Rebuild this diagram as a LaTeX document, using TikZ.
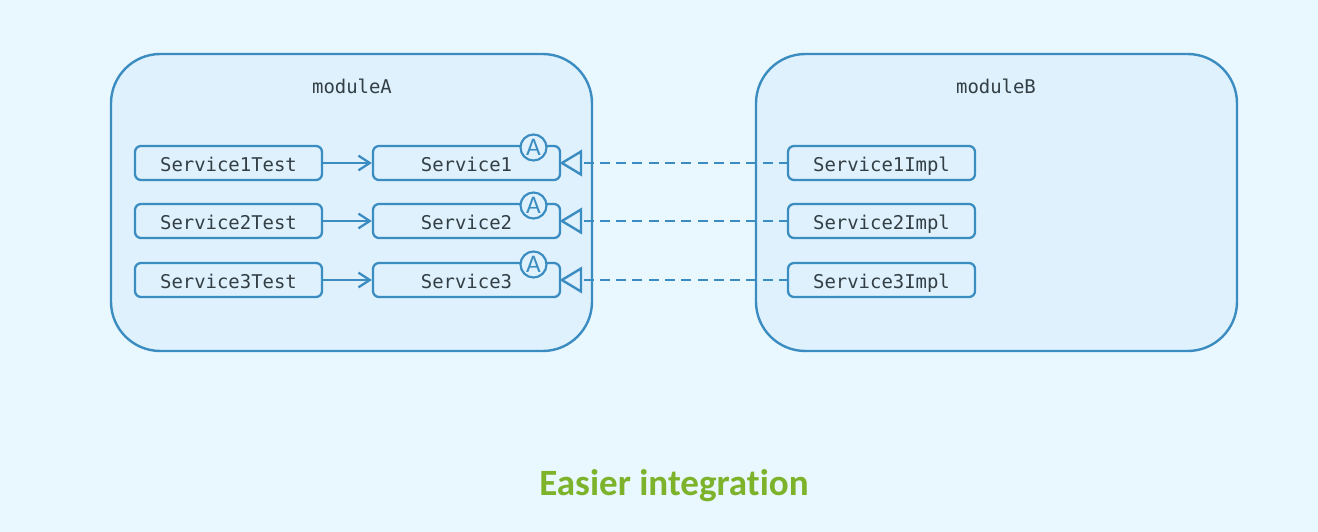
\documentclass[tikz,border=0pt]{standalone}
\usepackage{fontspec}
\setmainfont{Carlito}[Ligatures=NoCommon]
\setmonofont{DejaVu Sans Mono}
\usetikzlibrary{arrows.meta}
\definecolor{bgc}{HTML}{E9F7FF}
\definecolor{modfill}{HTML}{DEF1FD}
\definecolor{linec}{HTML}{3B8CC0}
\definecolor{txtc}{HTML}{333F44}
\definecolor{greenc}{HTML}{7CB32B}
\tikzset{
  x=0.75pt,y=-0.75pt,
  modulebox/.style={draw=linec,line width=1.8pt,fill=modfill,rounded corners=37pt,minimum width=360.75pt,minimum height=222.75pt,inner sep=0pt},
  modtitle/.style={font=\ttfamily\fontsize{14.2pt}{16pt}\selectfont,text=txtc,inner sep=0pt},
  itembox/.style={draw=linec,line width=1.7pt,fill=modfill,rounded corners=4.5pt,minimum width=140.25pt,minimum height=25.5pt,inner sep=0pt,text height=12pt,text depth=0pt,font=\ttfamily\fontsize{14.2pt}{16pt}\selectfont,text=txtc},
  badge/.style={circle,draw=linec,line width=1.6pt,fill=modfill,minimum size=19.5pt,inner sep=0pt,font=\fontsize{19pt}{20pt}\selectfont,text=linec},
  uses/.style={draw=linec,line width=1.9pt,-{Straight Barb[length=8.5pt,width=11pt,line width=1.7pt]}},
  implements/.style={draw=linec,line width=1.8pt,dash pattern=on 7.5pt off 4.7pt,dash phase=1.5pt,-{Triangle[open,length=17pt,width=20pt,line width=1.8pt]}},
}
\begin{document}
\begin{tikzpicture}
\useasboundingbox (0,0) rectangle (1318,532);
\fill[bgc] (0,0) rectangle (1318,532);
\node[modulebox] (modA) at (351.5,202.5) {};
\node[modulebox] (modB) at (996.5,202.5) {};
\node[modtitle] (titleA) at (352,86) {moduleA};
\node[modtitle] (titleB) at (996,86) {moduleB};
\foreach \i/\y in {1/163,2/221,3/280}{
  \node[itembox] (test\i) at (228.5,\y) {Service\i Test};
  \node[itembox] (svc\i) at (466.5,\y) {Service\i};
  \node[itembox] (impl\i) at (881.5,\y) {Service\i Impl};
  \node[badge] (badge\i) at (533.5,\y-15.5) {A};
  \draw[uses] (test\i.east) -- (svc\i.west);
  \coordinate (tip\i) at ([xshift=-1.2pt]svc\i.east);
  \draw[implements] (impl\i.west) -- (tip\i);
}
\node[font=\fontsize{27.8pt}{30pt}\selectfont\bfseries,text=greenc,inner sep=0pt] (caption) at (674,486) {Easier integration};
\end{tikzpicture}
\end{document}
